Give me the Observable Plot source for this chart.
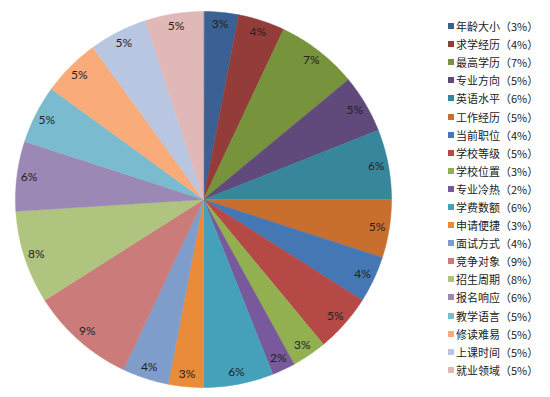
<!DOCTYPE html>
<html><head><meta charset="utf-8">
<script src="https://cdn.jsdelivr.net/npm/d3@7"></script>
<script src="https://cdn.jsdelivr.net/npm/@observablehq/plot@0.6"></script>
<style>
body{margin:0;background:#fff;}
#wrap{position:relative;width:550px;height:397px;}
#legend{position:absolute;left:448px;top:17px;font-family:"Noto Sans CJK SC",sans-serif;font-size:11px;color:#222;}
.item{height:18.1px;display:flex;align-items:center;white-space:nowrap;}
.sw{width:6px;height:6px;margin-right:2px;flex:none;}
</style></head><body><div id="wrap"></div>
<script>
const categories = ["年龄大小","求学经历","最高学历","专业方向","英语水平","工作经历","当前职位","学校等级","学校位置","专业冷热","学费数额","申请便捷","面试方式","竞争对象","招生周期","报名响应","教学语言","修读难易","上课时间","就业领域"];
const values = [3,4,7,5,6,5,4,5,3,2,6,3,4,9,8,6,5,5,5,5];
const colors = ["#3A6094","#943C39","#77933C","#604A7B","#37869B","#C86F2E","#4677B5","#B44945","#92B050","#78599B","#45A1BA","#E98B39","#7E9DCB","#CB7C7A","#AFC47F","#9C88B4","#7BBBCF","#F9AB79","#B8C6E1","#E0B8B7"];

const arcs = d3.pie().sort(null)(values);
const poly = [];
const labels = [];
arcs.forEach((a, i) => {
  const name = categories[i];
  poly.push({name, x: 0, y: 0});
  const n = Math.max(2, Math.ceil((a.endAngle - a.startAngle) / (Math.PI / 180)));
  for (let k = 0; k <= n; k++) {
    const t = a.startAngle + (a.endAngle - a.startAngle) * k / n;
    poly.push({name, x: Math.sin(t), y: Math.cos(t)});
  }
  const m = (a.startAngle + a.endAngle) / 2;
  labels.push({name, text: values[i] + "%", x: 0.935 * Math.sin(m), y: 0.935 * Math.cos(m)});
});

const chart = Plot.plot({
  width: 550, height: 397,
  marginLeft: 15, marginRight: 159, marginTop: 11, marginBottom: 10,
  x: {domain: [-1, 1], axis: null},
  y: {domain: [-1, 1], axis: null},
  color: {domain: categories, range: colors},
  style: {background: "#fff"},
  marks: [
    Plot.line(poly, {x: "x", y: "y", z: "name", fill: "name", stroke: "name", strokeWidth: 0.5, curve: "linear-closed"}),
    Plot.text(labels, {x: "x", y: "y", text: "text", fontSize: 12, fontFamily: "Lato", fill: "#222"})
  ]
});
const wrap = document.getElementById("wrap");
wrap.appendChild(chart);
const color = chart.scale("color");
const legend = document.createElement("div");
legend.id = "legend";
categories.forEach((c, i) => {
  const it = document.createElement("div");
  it.className = "item";
  const sw = document.createElement("span");
  sw.className = "sw";
  sw.style.background = color.apply(c);
  const tx = document.createElement("span");
  tx.textContent = `${c}（${values[i]}%）`;
  it.appendChild(sw); it.appendChild(tx);
  legend.appendChild(it);
});
wrap.appendChild(legend);
</script></body></html>
